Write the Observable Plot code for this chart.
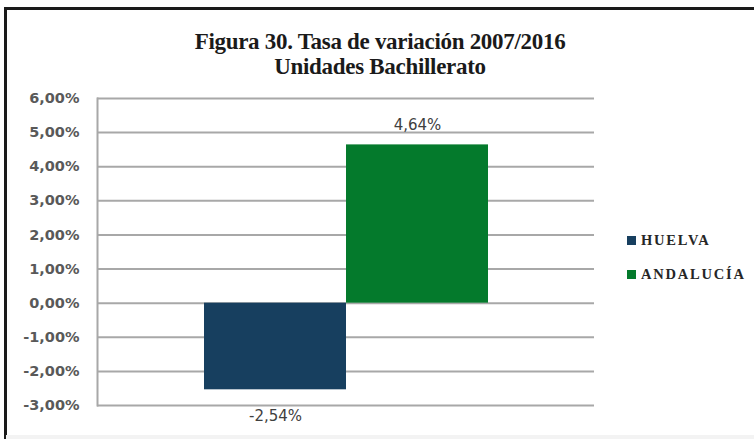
<!DOCTYPE html>
<html>
<head>
<meta charset="utf-8">
<script src="https://cdn.jsdelivr.net/npm/d3@7"></script>
<script src="https://cdn.jsdelivr.net/npm/@observablehq/plot@0.6"></script>
<style>
  html, body { margin: 0; padding: 0; background: #fff; }
  #wrap { position: relative; width: 754px; height: 439px; overflow: hidden; background: #fff; }
  #wrap svg { position: absolute; left: 0; top: 0; }
  #frameTop { position: absolute; left: 4px; top: 7px; width: 750px; height: 3px; background: #1a1a1a; }
  #frameLeft { position: absolute; left: 4px; top: 7px; width: 2.5px; height: 432px; background: #1a1a1a; }
  #bottomStrip { position: absolute; left: 6px; top: 435px; width: 748px; height: 4px; background: #f3f3f3; }
  #title { position: absolute; left: 0; width: 760px; top: 29px; text-align: center;
           font-family: "Liberation Serif", serif; font-weight: bold; font-size: 23px; line-height: 25px;
           letter-spacing: -0.3px; color: #1a1a1a; }
  .leg { position: absolute; left: 627px; font-family: "Liberation Serif", serif; font-weight: bold;
         font-size: 14.5px; letter-spacing: 1.8px; color: #262626; line-height: 16px; }
  .leg span.sw { display: inline-block; width: 9px; height: 9px; margin-right: 5px; vertical-align: 0px; }
</style>
</head>
<body>
<div id="wrap">
  <div id="frameTop"></div>
  <div id="frameLeft"></div>
  <div id="bottomStrip"></div>
  <div id="title">Figura 30. Tasa de variación 2007/2016<br>Unidades Bachillerato</div>
</div>
<script>
const series = ["HUELVA", "ANDALUCÍA"];
const values = [-2.54, 4.64];
const colors = ["#173f5f", "#047a2c"];
const yTicks = [-3, -2, -1, 0, 1, 2, 3, 4, 5, 6];
const labels = ["-2,54%", "4,64%"];

const data = series.map((s, i) => ({ serie: s, value: values[i], label: labels[i] }));
const fmt = d => d.toFixed(2).replace(".", ",") + "%";

const chart = Plot.plot({
  width: 754,
  height: 439,
  marginLeft: 97,
  marginRight: 160,
  marginTop: 98,
  marginBottom: 34,
  style: { background: "transparent", overflow: "visible" },
  x: { domain: series, paddingInner: 0, paddingOuter: 0.74, axis: null },
  y: { domain: [-3, 6], ticks: yTicks },
  color: { domain: series, range: colors },
  marks: [
    Plot.gridY(yTicks, { stroke: "#a8a8a8", strokeOpacity: 1, strokeWidth: 2 }),
    Plot.frame({ anchor: "left", stroke: "#a8a8a8", strokeWidth: 2 }),
    Plot.axisY(yTicks, {
      tickSize: 0, tickPadding: 18, tickFormat: fmt, label: null,
      fontFamily: "DejaVu Sans", fontWeight: "bold", fontSize: 14.5, fill: "#595959"
    }),
    Plot.barY(data, { x: "serie", y: "value", fill: "serie", insetLeft: 0, insetRight: 0 }),
    Plot.text(data.filter(d => d.value >= 0), {
      x: "serie", y: "value", text: "label", dy: -20,
      fontFamily: "DejaVu Sans", fontSize: 15, fill: "#404040"
    }),
    Plot.text(data.filter(d => d.value < 0), {
      x: "serie", y: "value", text: "label", dy: 26,
      fontFamily: "DejaVu Sans", fontSize: 15, fill: "#404040"
    })
  ]
});
const wrap = document.getElementById("wrap");
wrap.insertBefore(chart, wrap.firstChild);

const legTops = [232, 266];
series.forEach((s, i) => {
  const d = document.createElement("div");
  d.className = "leg";
  d.style.top = legTops[i] + "px";
  d.innerHTML = `<span class="sw" style="background:${colors[i]}"></span>${s}`;
  wrap.appendChild(d);
});
</script>
</body>
</html>
